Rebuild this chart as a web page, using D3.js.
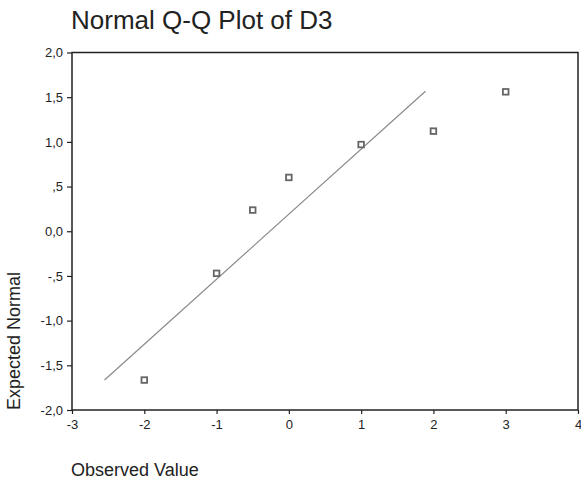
<!DOCTYPE html>
<html>
<head>
<meta charset="utf-8">
<script src="https://cdn.jsdelivr.net/npm/d3@7"></script>
<style>
  body { margin: 0; background: #fff; }
  text { font-family: Arial, "Liberation Sans", sans-serif; fill: #222; }
</style>
</head>
<body>
<svg width="581" height="481"></svg>
<script>
// valeurs
var observed = [-2, -1, -0.5, 0, 1, 2, 3];
var expected = [-1.665, -0.471, 0.237, 0.602, 0.97, 1.12, 1.56];
var lineX = [-2.55, 1.89];
var lineY = [-1.665, 1.567];
var xTicks = [-3, -2, -1, 0, 1, 2, 3, 4];
var xTickLabels = ["-3", "-2", "-1", "0", "1", "2", "3", "4"];
var yTicks = [2, 1.5, 1, 0.5, 0, -0.5, -1, -1.5, -2];
var yTickLabels = ["2,0", "1,5", "1,0", ",5", "0,0", "-,5", "-1,0", "-1,5", "-2,0"];

var svg = d3.select("svg");
var plotLeft = 72, plotRight = 578, plotTop = 52.5, plotBottom = 410;

var x = d3.scaleLinear().domain([-3, 4]).range([plotLeft, plotRight]);
var y = d3.scaleLinear().domain([-2, 2]).range([plotBottom, plotTop]);

// cadre
svg.append("rect")
  .attr("x", plotLeft).attr("y", plotTop)
  .attr("width", plotRight - plotLeft).attr("height", plotBottom - plotTop)
  .attr("fill", "none").attr("stroke", "#222").attr("stroke-width", 1.5);

// axes
var xAxis = d3.axisBottom(x).tickValues(xTicks).tickSize(4).tickPadding(6)
  .tickFormat(function(d, i) { return xTickLabels[i]; });
var gx = svg.append("g").attr("transform", "translate(0," + plotBottom + ")").call(xAxis);

var yAxis = d3.axisLeft(y).tickValues(yTicks).tickSize(5).tickPadding(4)
  .tickFormat(function(d, i) { return yTickLabels[i]; });
var gy = svg.append("g").attr("transform", "translate(" + plotLeft + ",0)").call(yAxis);

[gx, gy].forEach(function(g) {
  g.select(".domain").remove();
  g.selectAll(".tick line").attr("stroke", "#222").attr("stroke-width", 1.2);
  g.selectAll(".tick text")
    .attr("font-family", "Arial, 'Liberation Sans', sans-serif")
    .attr("font-size", "13px").attr("fill", "#222");
});

// droite normale attendue
svg.append("line")
  .attr("x1", x(lineX[0])).attr("y1", y(lineY[0]))
  .attr("x2", x(lineX[1])).attr("y2", y(lineY[1]))
  .attr("stroke", "#8a8a8a").attr("stroke-width", 1.2);

// points
svg.selectAll("rect.pt")
  .data(observed)
  .enter()
  .append("rect")
  .attr("class", "pt")
  .attr("x", function(d) { return x(d) - 2.8; })
  .attr("y", function(d, i) { return y(expected[i]) - 2.8; })
  .attr("width", 5.6).attr("height", 5.6)
  .attr("fill", "#fff").attr("stroke", "#666").attr("stroke-width", 1.8);

// titres
svg.append("text")
  .attr("x", 71).attr("y", 29)
  .attr("font-size", "26px")
  .text("Normal Q-Q Plot of D3");

svg.append("text")
  .attr("x", 71).attr("y", 476)
  .attr("font-size", "18px")
  .text("Observed Value");

svg.append("text")
  .attr("transform", "translate(19.5,410) rotate(-90)")
  .attr("font-size", "18px")
  .text("Expected Normal");
</script>
</body>
</html>
